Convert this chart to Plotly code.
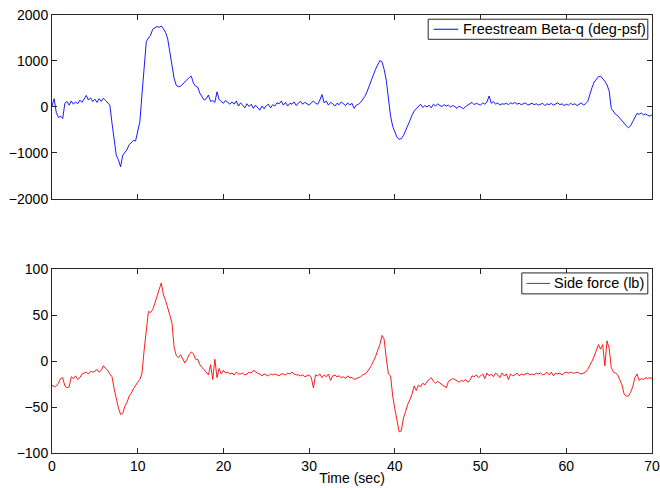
import numpy as np
import plotly.graph_objects as go
from plotly.subplots import make_subplots

# time grid (seconds), 0.25 s sampling
time_s = np.arange(0, 70.001, 0.25)

# Freestream Beta-q (deg-psf), 4 samples per second
beta_q = [
    20, 180, -120, -230,
    -200, -250, 80, 120,
    40, 130, 60, 110,
    70, 150, 100, 180,
    250, 150, 200, 120,
    170, 100, 180, 120,
    190, 140, 100, 40,
    -350, -700, -1050, -1150,
    -1300, -1050, -1000, -930,
    -820, -780, -730, -740,
    -560, -320, 280, 850,
    1420, 1500, 1560, 1690,
    1720, 1750, 1730, 1760,
    1700, 1620, 1480, 1180,
    900, 620, 470, 440,
    450, 500, 540, 610,
    640, 670, 520, 450,
    430, 300, 220, 150,
    180, 260, 120, 140,
    100, 330, 160, 120,
    80, 140, 100, 60,
    110, 60, 130, 20,
    90, 40, -20, 70,
    10, 60, -30, 40,
    -10, -70, 20, -40,
    30, 60, -20, 50,
    20, 90, 70, 130,
    40, 100, 20, 80,
    60, 110, 30, 90,
    120, 60, 100, 70,
    40, 90, 130, 80,
    60, 150, 270, 90,
    130, 40, 100, 70,
    20, 80, 50, 110,
    60, 30, 90, 40,
    80, -30, 40, 60,
    100, 170, 230, 330,
    470, 560, 700, 820,
    920, 1010, 980, 820,
    580, 150, -200, -420,
    -550, -660, -700, -690,
    -620, -520, -410, -300,
    -180, -90, -40, 20,
    60, -10, 30, 0,
    40, -20, 60, 20,
    70, 30, 10, 50,
    20, 40, 0, 30,
    10, -30, 20, -10,
    -40, 10, 40, 80,
    100, 50, 80, 60,
    40, 90, 60, 110,
    240, 80, 120, 60,
    90, 40, 70, 60,
    80, 50, 90, 70,
    100, 60, 80, 50,
    70, 90, 40, 60,
    80, 50, 70, 40,
    60, 80, 30, 70,
    50, 80, 40, 60,
    90, 50, 70, 30,
    60, 40, 80, 50,
    70, 30, 60, 90,
    40, 70, 120, 300,
    420, 540, 600, 660,
    670, 620, 560, 480,
    350, -30, -100, -160,
    -190, -250, -300, -360,
    -410, -450, -410, -320,
    -220, -140, -160, -130,
    -170, -150, -180, -200,
    -170,
]

# Side force (lb), 4 samples per second
side_force = [
    -26, -28, -27, -24,
    -19, -18, -27, -29,
    -28, -17, -19, -16,
    -20, -18, -14, -13,
    -12, -14, -11, -12,
    -11, -9, -12, -10,
    -5, -8, -10, -14,
    -17, -30, -42, -51,
    -58, -57, -49, -45,
    -38, -35, -30, -26,
    -23, -20, -13, 12,
    33, 54, 53, 56,
    63, 72, 78, 85,
    72, 66, 59, 50,
    41, 15, 6, 4,
    7, 3, -2, 2,
    7, 10, 8, 2,
    2, -4, -7, -9,
    -12, -15, -4, -20,
    2, -18, -8, -14,
    -10, -13, -12, -14,
    -13, -15, -12, -14,
    -14, -13, -15, -14,
    -12, -13, -10, -12,
    -13, -14, -16, -14,
    -15, -16, -14, -15,
    -14, -15, -16, -14,
    -14, -15, -13, -14,
    -12, -14, -15, -15,
    -16, -15, -17, -16,
    -15, -18, -29, -15,
    -16, -14, -18, -15,
    -17, -14, -21, -16,
    -15, -17, -16, -18,
    -17, -19, -16, -18,
    -18, -20, -19, -18,
    -17, -15, -14, -12,
    -9, -5, 0, 5,
    12, 18, 28, 24,
    3, -14, -16, -38,
    -52, -66, -77, -76,
    -62, -55, -47, -42,
    -36, -27, -32, -26,
    -28, -24, -26, -22,
    -20, -18, -22, -24,
    -22, -24, -26, -28,
    -29, -22, -20, -19,
    -20, -22, -23, -21,
    -22, -20, -23, -21,
    -16, -17, -15, -18,
    -16, -14, -19, -13,
    -16, -14, -17, -13,
    -15, -18, -13, -16,
    -14, -20, -14, -16,
    -15, -13, -16, -14,
    -15, -14, -13, -15,
    -14, -15, -13, -14,
    -13, -15, -14, -12,
    -15, -12, -16, -13,
    -14, -13, -15, -13,
    -12, -13, -12, -13,
    -13, -12, -13, -14,
    -13, -12, -9, -5,
    0, 5, 11, 18,
    13, 18, -5, 22,
    14, -7, -12, -13,
    -15, -20, -26, -36,
    -38, -38, -34, -28,
    -18, -14, -21, -19,
    -20, -18, -19, -18,
    -19,
]

x_ticks = [0, 10, 20, 30, 40, 50, 60, 70]
top_ticks = [-2000, -1000, 0, 1000, 2000]
bottom_ticks = [-100, -50, 0, 50, 100]

series_names = ["Freestream Beta-q (deg-psf)", "Side force (lb)"]
series_colors = ["#0000ff", "#ff0000"]

FONT = "Liberation Sans, Arial"
EDGE = "#262626"

fig = make_subplots(rows=2, cols=1, shared_xaxes=False, vertical_spacing=0.16)

fig.add_trace(go.Scatter(x=time_s, y=beta_q, mode="lines",
                         line=dict(color=series_colors[0], width=0.9),
                         name=series_names[0], showlegend=False),
              row=1, col=1)
fig.add_trace(go.Scatter(x=time_s, y=side_force, mode="lines",
                         line=dict(color=series_colors[1], width=0.9),
                         name=series_names[1], showlegend=False),
              row=2, col=1)

axis_common = dict(showline=True, linecolor=EDGE, linewidth=1, mirror="ticks",
                   ticks="inside", ticklen=5, tickcolor=EDGE, showgrid=False,
                   zeroline=False, automargin=False,
                   tickfont=dict(family=FONT, size=14, color="#000"))

fig.update_xaxes(range=[0, 70], tickvals=x_ticks, **axis_common)
fig.update_xaxes(showticklabels=False, row=1, col=1)
fig.update_xaxes(title=dict(text="Time (sec)", standoff=0,
                            font=dict(family=FONT, size=14, color="#000")),
                 row=2, col=1)
fig.update_yaxes(range=[-2000, 2000], tickvals=top_ticks, row=1, col=1, **axis_common)
fig.update_yaxes(range=[-100, 100], tickvals=bottom_ticks, row=2, col=1, **axis_common)

# MATLAB-style boxed legends (one per axes), drawn in axis-domain coordinates
legend_boxes = [
    dict(xref="x domain", yref="y domain", x0=0.627, x1=0.993, y0=0.868, y1=0.977,
         lx0=0.636, lx1=0.677, tx=0.681),
    dict(xref="x2 domain", yref="y2 domain", x0=0.783, x1=0.993, y0=0.866, y1=0.98,
         lx0=0.791, lx1=0.830, tx=0.834),
]
for i, lb in enumerate(legend_boxes):
    ymid = (lb["y0"] + lb["y1"]) / 2
    fig.add_shape(type="rect", xref=lb["xref"], yref=lb["yref"],
                  x0=lb["x0"], x1=lb["x1"], y0=lb["y0"], y1=lb["y1"],
                  line=dict(color=EDGE, width=1), fillcolor="white", layer="above")
    fig.add_shape(type="line", xref=lb["xref"], yref=lb["yref"],
                  x0=lb["lx0"], x1=lb["lx1"], y0=ymid, y1=ymid,
                  line=dict(color=series_colors[i], width=1), layer="above")
    fig.add_annotation(xref=lb["xref"], yref=lb["yref"], x=lb["tx"], y=ymid,
                       text=series_names[i], showarrow=False, xanchor="left",
                       yanchor="middle", font=dict(family=FONT, size=14.5, color="#000"))

fig.update_layout(
    width=660, height=488,
    margin=dict(l=52, r=8, t=15, b=35, autoexpand=False),
    showlegend=False,
    plot_bgcolor="white", paper_bgcolor="white",
    xaxis=dict(domain=[0, 1]), xaxis2=dict(domain=[0, 1]),
    yaxis=dict(domain=[0.58, 1.0]), yaxis2=dict(domain=[0.0, 0.4195]),
    font=dict(family=FONT, size=14, color="#000"),
)

fig.write_html("out.html", config={"displayModeBar": False},
               post_script="document.body.style.margin='0';")
